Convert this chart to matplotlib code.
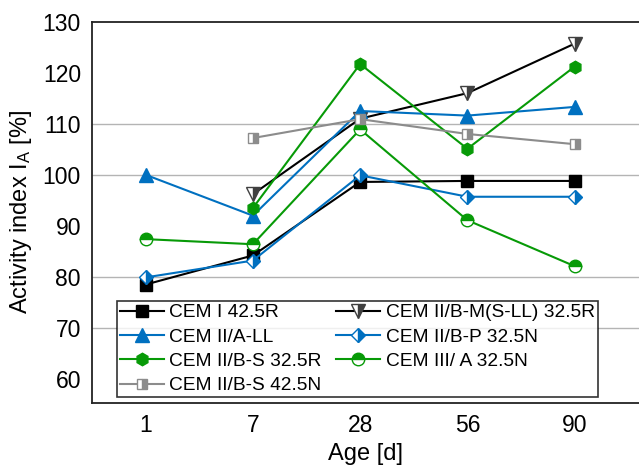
import matplotlib
matplotlib.use("Agg")
import matplotlib.pyplot as plt
import numpy as np

plt.rcParams['font.family'] = ['Liberation Sans', 'DejaVu Sans']
plt.rcParams['mathtext.default'] = 'regular'

# hydration ages and activity index per cement type (nan = not measured)
ages = ['1', '7', '28', '56', '90']
cem_i_425r = [78.5, 84.2, 98.6, 98.8, 98.8]
cem_iibm_325r = [np.nan, 96.2, 111.0, 116.0, 125.7]
cem_iia_ll = [100.0, 92.0, 112.5, 111.6, 113.3]
cem_iibp_325n = [79.9, 83.2, 99.9, 95.7, 95.7]
cem_iibs_325r = [np.nan, 93.5, 121.7, 105.1, 121.2]
cem_iiia_325n = [87.4, 86.4, 108.9, 91.1, 82.1]
cem_iibs_425n = [np.nan, 107.2, 110.9, 108.0, 106.0]

BLUE = '#0070c0'
GREEN = '#079a07'
GREY = '#8c8c8c'

fig = plt.figure(figsize=(6.39, 4.71), dpi=100)
ax = fig.add_axes([0.144, 0.1444, 0.856, 0.8096])
x = np.arange(len(ages))

series = [
    (cem_i_425r, 'CEM I 42.5R',
     dict(color='black', marker='s', ms=8, mfc='black', mec='black')),
    (cem_iibm_325r, 'CEM II/B-M(S-LL) 32.5R',
     dict(color='black', marker='v', ms=10, fillstyle='right', mfc='#404040', mfcalt='white', mec='#404040')),
    (cem_iia_ll, 'CEM II/A-LL',
     dict(color=BLUE, marker='^', ms=10, mfc=BLUE, mec=BLUE)),
    (cem_iibp_325n, 'CEM II/B-P 32.5N',
     dict(color=BLUE, marker='D', ms=7.6, fillstyle='right', mfc=BLUE, mfcalt='white', mec=BLUE)),
    (cem_iibs_325r, 'CEM II/B-S 32.5R',
     dict(color=GREEN, marker='h', ms=9, mfc=GREEN, mec=GREEN)),
    (cem_iiia_325n, 'CEM III/ A 32.5N',
     dict(color=GREEN, marker='o', ms=9, fillstyle='top', mfc=GREEN, mfcalt='white', mec=GREEN)),
    (cem_iibs_425n, 'CEM II/B-S 42.5N',
     dict(color=GREY, marker='s', ms=7.4, fillstyle='right', mfc=GREY, mfcalt='white', mec=GREY)),
]

handles = []
for vals, name, st in series:
    mfcalt = st.pop('mfcalt', None)
    line, = ax.plot(x, vals, lw=1.5, mew=1.0, label=name, **st)
    if mfcalt is not None:
        line.set_markerfacecoloralt(mfcalt)
    handles.append(line)

for g in [70, 80, 100, 110]:
    ax.axhline(g, color='#b4b4b4', lw=1.0, zorder=0)

ax.set_xlim(-0.5, 4.6)
ax.set_ylim(55.3, 130)
ax.set_yticks(np.arange(60, 131, 10))
ax.set_xticks(x)
ax.set_xticklabels(ages)
ax.tick_params(length=0, labelsize=16.5, pad=8)
ax.spines['right'].set_visible(False)
for s in ['left', 'bottom', 'top']:
    ax.spines[s].set_color('#222222')
    ax.spines[s].set_linewidth(1.3)

ax.set_xlabel('Age [d]', fontsize=17)
ax.set_ylabel('Activity index I$_A$ [%]', fontsize=17, labelpad=6)

# legend filled row by row: left column first, then right column
order = [0, 2, 4, 6, 1, 3, 5]
leg = ax.legend([handles[i] for i in order], [series[i][1] for i in order],
                ncol=2, loc='lower left', bbox_to_anchor=(0.045, 0.015),
                fontsize=13.8, frameon=True, fancybox=False, edgecolor='black',
                handlelength=2.3, handletextpad=0.3, columnspacing=0.75,
                borderpad=0.15, labelspacing=0.36, borderaxespad=0)
leg.get_frame().set_linewidth(1.2)

fig.savefig('out.png', dpi=100)
